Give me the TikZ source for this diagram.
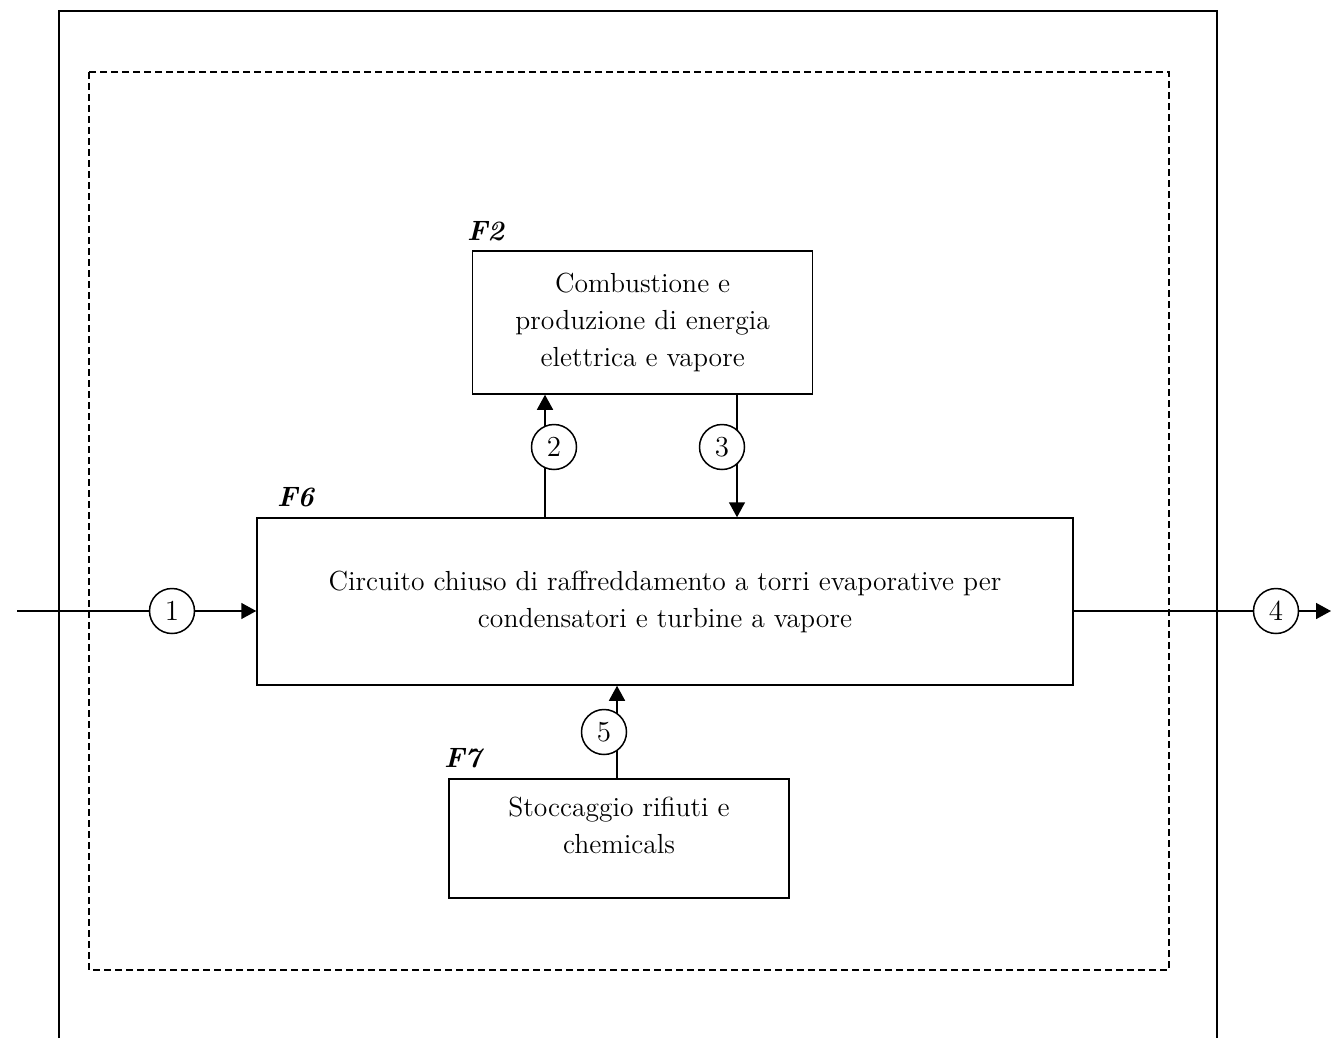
\documentclass[tikz,border=0pt]{standalone}
\usetikzlibrary{arrows.meta}

\begin{document}
\begin{tikzpicture}[
  x=0.5pt, y=-0.5pt,
  every node/.style={font=\fontsize{13.8}{18.5}\selectfont},
  box/.style={draw, line width=0.75pt, align=center, inner sep=2pt},
  stream/.style={draw, circle, fill=white, line width=0.75pt,
                 minimum size=22.5pt, inner sep=0pt,
                 font=\fontsize{14.5}{16}\selectfont},
  tag/.style={anchor=base west, font=\fontsize{14}{15}\selectfont\bfseries\itshape},
  arr/.style={-{Triangle[length=7.5pt, width=8pt]}, line width=0.75pt}
]
\useasboundingbox (0,0) rectangle (1332,1038);

% frames
\draw[line width=0.75pt] (59,1038) -- (59,11) -- (1217,11) -- (1217,1038);
\draw[line width=0.75pt, dash pattern=on 3.5pt off 2pt] (89,72) rectangle (1169,970);

% phases
\node[box, minimum width=170pt, minimum height=71.5pt] (f2) at (642.7,322.5)
  {Combustione e\\ produzione di energia\\ elettrica e vapore};
\node[box, minimum width=408pt, minimum height=83.5pt] (f6) at (665,601.5)
  {Circuito chiuso di raffreddamento a torri evaporative per\\ condensatori e turbine a vapore};
\node[box, minimum width=170pt, minimum height=59.5pt] (f7) at (619,838.5) {};
\node[align=center] (f7txt) at ([yshift=6.5pt]f7.center) {Stoccaggio rifiuti e\\ chemicals};

\node[tag] (f2tag) at (460,240) {F2};
\node[tag] (f6tag) at (270,506) {F6};
\node[tag] (f7tag) at (437,767) {F7};

% streams
\coordinate (in)  at (17,611);
\coordinate (out) at (1331,611);
\coordinate (s2) at (545,447);
\coordinate (s3) at (737,447);
\coordinate (s5) at (617,732);

\draw[arr] (in) -- (in -| f6.west);
\draw[arr] (f6.east |- out) -- (out);
\draw[arr] (s2 |- f6.north) -- (s2 |- f2.south);
\draw[arr] (s3 |- f2.south) -- (s3 |- f6.north);
\draw[arr] (s5 |- f7.north) -- (s5 |- f6.south);

\node[stream] (n1) at (172,611) {1};
\node[stream] (n2) at (554,447) {2};
\node[stream] (n3) at (722,447) {3};
\node[stream] (n4) at (1276,611) {4};
\node[stream] (n5) at (604,732) {5};
\end{tikzpicture}
\end{document}
